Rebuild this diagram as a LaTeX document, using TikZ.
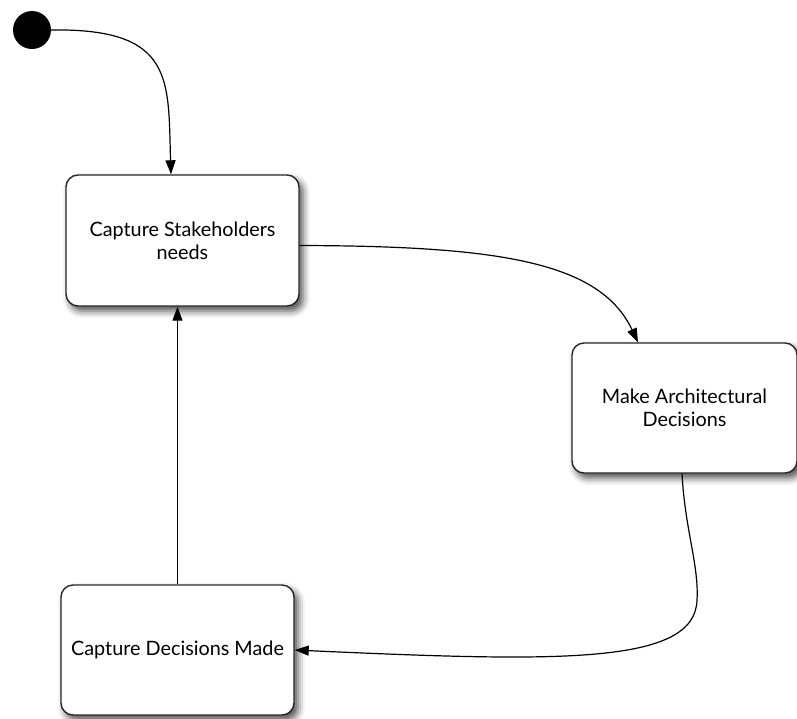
\documentclass[tikz,border=0pt]{standalone}
\usepackage{fontspec}
\setmainfont{Lato}
\usetikzlibrary{arrows.meta,shadows.blur}
\begin{document}
\begin{tikzpicture}[x=1pt,y=-1pt,
  statebox/.style={draw=black!85, line width=1.4pt, rounded corners=12pt, fill=white,
    inner sep=0pt, align=center, font=\fontsize{19.8}{23}\selectfont,
    blur shadow={shadow xshift=4pt, shadow yshift=-5pt, shadow blur radius=7pt, shadow opacity=70}},
  conn/.style={line width=1.2pt, draw=black, -{Triangle[length=14pt,width=10pt]}}]
\useasboundingbox (0,0) rectangle (797,718);
\node[circle, fill=black, minimum size=38pt, inner sep=0pt] (start) at (32,30) {};
\node[statebox, minimum width=233pt, minimum height=131pt] (b1) at (182.5,240.5) {Capture Stakeholders\\needs};
\node[statebox, minimum width=225pt, minimum height=130pt] (b2) at (684.5,408) {Make Architectural\\Decisions};
\node[statebox, minimum width=233pt, minimum height=130pt] (b3) at (177.5,650) {Capture Decisions Made};
\draw[conn] (start.east) .. controls (175,28) and (168,80) .. ([xshift=-11.5pt]b1.north);
\draw[conn] ([yshift=-5pt]b1.east) .. controls (500,246) and (600,262) .. ([xshift=-46.5pt]b2.north);
\coordinate (bend) at (697,600);
\draw[conn] ([xshift=-2.5pt]b2.south) .. controls (685,530) and (699,565) .. (bend)
  .. controls (695,665) and (560,662) .. (b3.east);
\draw[conn] (b3.north) -- (b3.north |- b1.south);
\end{tikzpicture}
\end{document}
